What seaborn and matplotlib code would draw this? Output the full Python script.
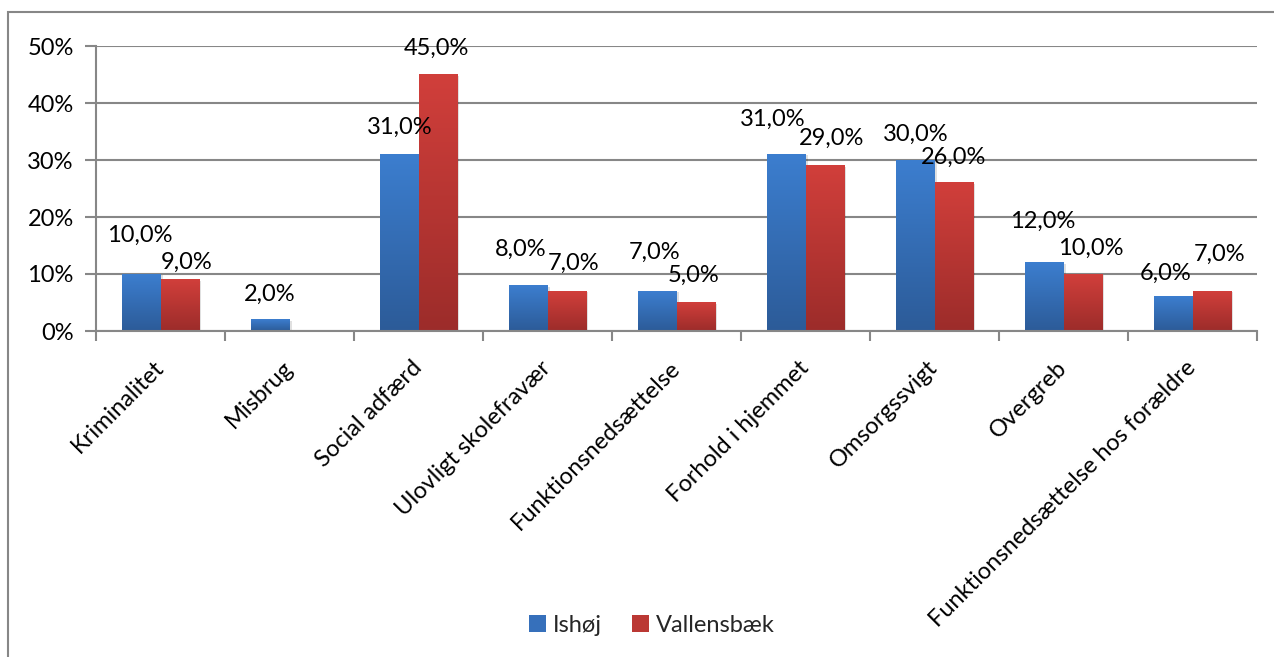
import matplotlib
matplotlib.use("Agg")
import matplotlib.pyplot as plt
import numpy as np
import pandas as pd
import seaborn as sns
from matplotlib.colors import LinearSegmentedColormap
from matplotlib.patches import Rectangle, Patch
from matplotlib.ticker import FixedLocator

# data (percent)
categories = [
    "Kriminalitet",
    "Misbrug",
    "Social adfærd",
    "Ulovligt skolefravær",
    "Funktionsnedsættelse",
    "Forhold i hjemmet",
    "Omsorgssvigt",
    "Overgreb",
    "Funktionsnedsættelse hos forældre",
]
ishoej = [10, 2, 31, 8, 7, 31, 30, 12, 6]
vallensbaek = [9, 0, 45, 7, 5, 29, 26, 10, 7]
series = ["Ishøj", "Vallensbæk"]
yticks = [0, 10, 20, 30, 40, 50]

# label nudges in pixels (dx, dy from top centre of each bar), Excel shuffles them around
nudge_ishoej = [(-2, 39), (-1, 25), (0, 27), (-8, 36), (-3, 39), (-14, 35), (0, 26), (-2, 41), (-8, 23)]
nudge_vallensbaek = [(7, 17), (0, 0), (-1, 26), (7, 28), (-2, 27), (7, 27), (0, 25), (8, 26), (8, 37)]

df = pd.DataFrame(
    {
        "Kategori": categories * 2,
        "Kommune": [series[0]] * len(categories) + [series[1]] * len(categories),
        "Andel": ishoej + vallensbaek,
    }
)

sns.set_theme(style="white")
plt.rcParams["font.family"] = ["Lato", "DejaVu Sans"]
fs = 17

grey = "#878787"
blue_top, blue_bot = "#3c7ecf", "#2c5b98"
red_top, red_bot = "#d13f3b", "#9c2c2a"
grads = [
    LinearSegmentedColormap.from_list("b", [blue_bot, blue_top]),
    LinearSegmentedColormap.from_list("r", [red_bot, red_top]),
]

fig = plt.figure(figsize=(12.74, 6.57), dpi=100)
ax = fig.add_axes([96 / 1274, 1 - 331 / 657, (1257 - 96) / 1274, (331 - 46) / 657])

sns.barplot(
    data=df,
    x="Kategori",
    y="Andel",
    hue="Kommune",
    palette=[blue_top, red_top],
    width=0.59,
    gap=0,
    legend=False,
    ax=ax,
    zorder=3,
)

# gradient fill + faint shadow for each bar
grad = np.linspace(0, 1, 256).reshape(-1, 1)
for k, cont in enumerate(ax.containers):
    for bar in cont:
        x0, y0 = bar.get_x(), bar.get_y()
        w, h = bar.get_width(), bar.get_height()
        if h <= 0:
            bar.set_visible(False)
            continue
        ax.imshow(grad, extent=[x0, x0 + w, y0, y0 + h], origin="lower",
                  cmap=grads[k], aspect="auto", zorder=3, interpolation="bicubic")
        bar.set_visible(False)
        sh = Rectangle((x0 + 0.02, -0.5), w, h + 0.3,
                       facecolor="#000000", alpha=0.12, lw=0, zorder=2)
        ax.add_patch(sh)

# data labels
for k, (vals, nudges) in enumerate([(ishoej, nudge_ishoej), (vallensbaek, nudge_vallensbaek)]):
    for bar, v, (dx, dy) in zip(ax.containers[k], vals, nudges):
        if v == 0:
            continue
        ax.annotate(
            f"{v:.1f}%".replace(".", ","),
            (bar.get_x() + bar.get_width() / 2, bar.get_height()),
            xytext=(dx, dy), textcoords="offset pixels",
            ha="center", va="center", fontsize=fs, color="black",
        )

ax.set_xlim(-0.5, len(categories) - 0.5)
ax.set_ylim(0, 50)
ax.set_yticks(yticks)
ax.set_yticklabels([f"{t}%" for t in yticks])
ax.grid(axis="y", color=grey, lw=1.5, zorder=0)
ax.set_xlabel("")
ax.set_ylabel("")

for s in ["top", "right"]:
    ax.spines[s].set_visible(False)
for s in ["left", "bottom"]:
    ax.spines[s].set_color(grey)
    ax.spines[s].set_linewidth(1.5)
    ax.spines[s].set_zorder(4)

ax.tick_params(axis="y", length=8, width=1.5, color=grey, direction="out",
               labelsize=fs, labelcolor="black", pad=8, left=True)
ax.tick_params(axis="x", which="major", length=0, labelsize=fs, labelcolor="black", pad=24)
ax.xaxis.set_minor_locator(FixedLocator(np.arange(-0.5, len(categories), 1.0)))
ax.tick_params(axis="x", which="minor", length=7, width=1.5, color=grey, direction="out", bottom=True)
ax.set_xticks(range(len(categories)))
ax.set_xticklabels(categories, rotation=45, ha="right", va="center", rotation_mode="anchor")

# legend at the bottom
handles = [Patch(facecolor=c, edgecolor="none") for c in ["#3670bb", "#bb3834"]]
fig.legend(handles, series, loc="center", bbox_to_anchor=(652 / 1274, 1 - 625 / 657),
           ncol=2, frameon=False, fontsize=fs, handlelength=0.7, handleheight=0.7,
           handletextpad=0.3, columnspacing=1.3)

# chart area border (cut off at right/bottom like the screenshot)
fig.patches.append(Rectangle((8 / 1274, -0.1), 1.2, 1.1 - 12 / 657, transform=fig.transFigure,
                             fill=False, edgecolor=grey, lw=1.5, clip_on=False))

fig.savefig("out.png", dpi=100)
